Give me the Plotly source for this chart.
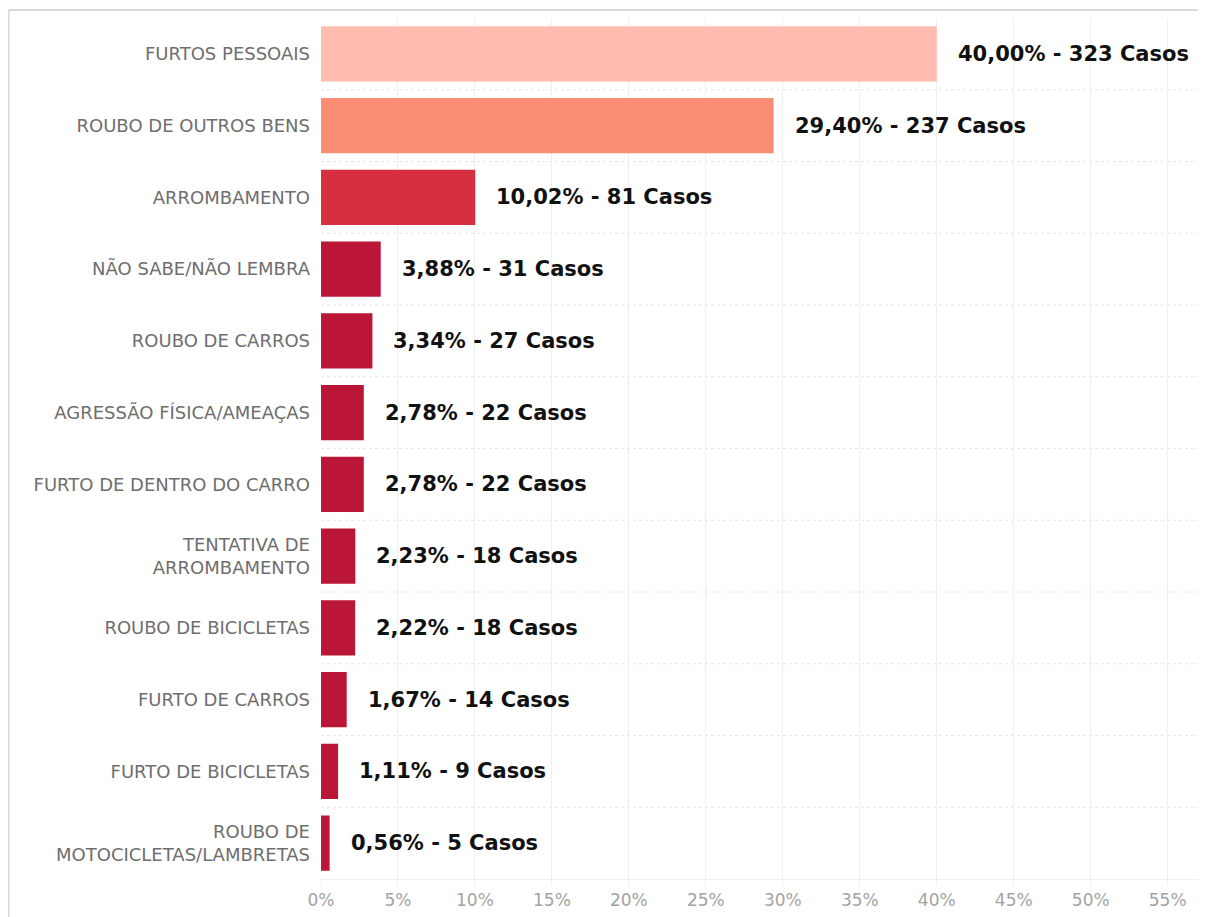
import plotly.graph_objects as go

# dados
categorias = [
    "FURTOS PESSOAIS",
    "ROUBO DE OUTROS BENS",
    "ARROMBAMENTO",
    "NÃO SABE/NÃO LEMBRA",
    "ROUBO DE CARROS",
    "AGRESSÃO FÍSICA/AMEAÇAS",
    "FURTO DE DENTRO DO CARRO",
    "TENTATIVA DE<br>ARROMBAMENTO",
    "ROUBO DE BICICLETAS",
    "FURTO DE CARROS",
    "FURTO DE BICICLETAS",
    "ROUBO DE<br>MOTOCICLETAS/LAMBRETAS",
]
percentuais = [40.00, 29.40, 10.02, 3.88, 3.34, 2.78, 2.78, 2.23, 2.22, 1.67, 1.11, 0.56]
casos = [323, 237, 81, 31, 27, 22, 22, 18, 18, 14, 9, 5]
cores = ["#FFBCAF", "#FC8D75", "#D62F3F"] + ["#BB1637"] * 9
ticks_x = [0, 5, 10, 15, 20, 25, 30, 35, 40, 45, 50, 55]
ticks_txt = [f"{t}%" for t in ticks_x]

# a página tem margem de 8px no body
W, H = 1198, 909
ML, MR, MT, MB = 313, 6, 10, 38
pw, ph = W - ML - MR, H - MT - MB

fig = go.Figure()
fig.add_trace(go.Bar(
    x=percentuais,
    y=categorias,
    orientation="h",
    marker=dict(color=cores, line=dict(width=0)),
    hoverinfo="skip",
))

# rótulos de valor
for p, c, cat in zip(percentuais, casos, categorias):
    txt = f"{p:.2f}".replace(".", ",") + f"% - {c} Casos"
    fig.add_annotation(
        x=p, y=cat, text=f"<b>{txt}</b>", showarrow=False,
        xanchor="left", xshift=19,
        font=dict(family="DejaVu Sans", size=21, color="#111111"),
    )

# linhas pontilhadas entre as linhas
for i in range(len(categorias) - 1):
    fig.add_shape(type="line", xref="paper", yref="y",
                  x0=0, x1=1, y0=i + 0.5, y1=i + 0.5,
                  line=dict(color="#E6E6E6", width=1, dash="dot"), layer="below")

# moldura do painel
bx0 = (0.5 - ML) / pw
by1 = 1 + (MT - 2) / ph
fig.add_shape(type="line", xref="paper", yref="paper",
              x0=bx0, x1=bx0, y0=-0.2, y1=by1, line=dict(color="#D9D9D9", width=2))
fig.add_shape(type="line", xref="paper", yref="paper",
              x0=bx0, x1=1.05, y0=by1, y1=by1, line=dict(color="#D9D9D9", width=2))

fig.update_layout(
    width=W, height=H,
    margin=dict(l=ML, r=MR, t=MT, b=MB),
    paper_bgcolor="white", plot_bgcolor="white",
    bargap=0.23,
    showlegend=False,
    font=dict(family="DejaVu Sans, sans-serif", color="#6E6E6E"),
)
fig.update_xaxes(
    range=[0, 57.1],
    tickvals=ticks_x,
    ticktext=ticks_txt,
    showgrid=True, gridcolor="#EFEFEF", gridwidth=1,
    showline=True, linecolor="#EFEFEF", linewidth=1,
    ticks="outside", ticklen=6, tickcolor="#EFEFEF",
    tickfont=dict(size=17, color="#A3A3A3"),
    zeroline=False,
)
fig.update_yaxes(
    autorange="reversed",
    showgrid=False,
    ticks="", ticklabelstandoff=10,
    tickfont=dict(size=18, color="#6E6E6E"),
)

fig.write_html("out.html")
